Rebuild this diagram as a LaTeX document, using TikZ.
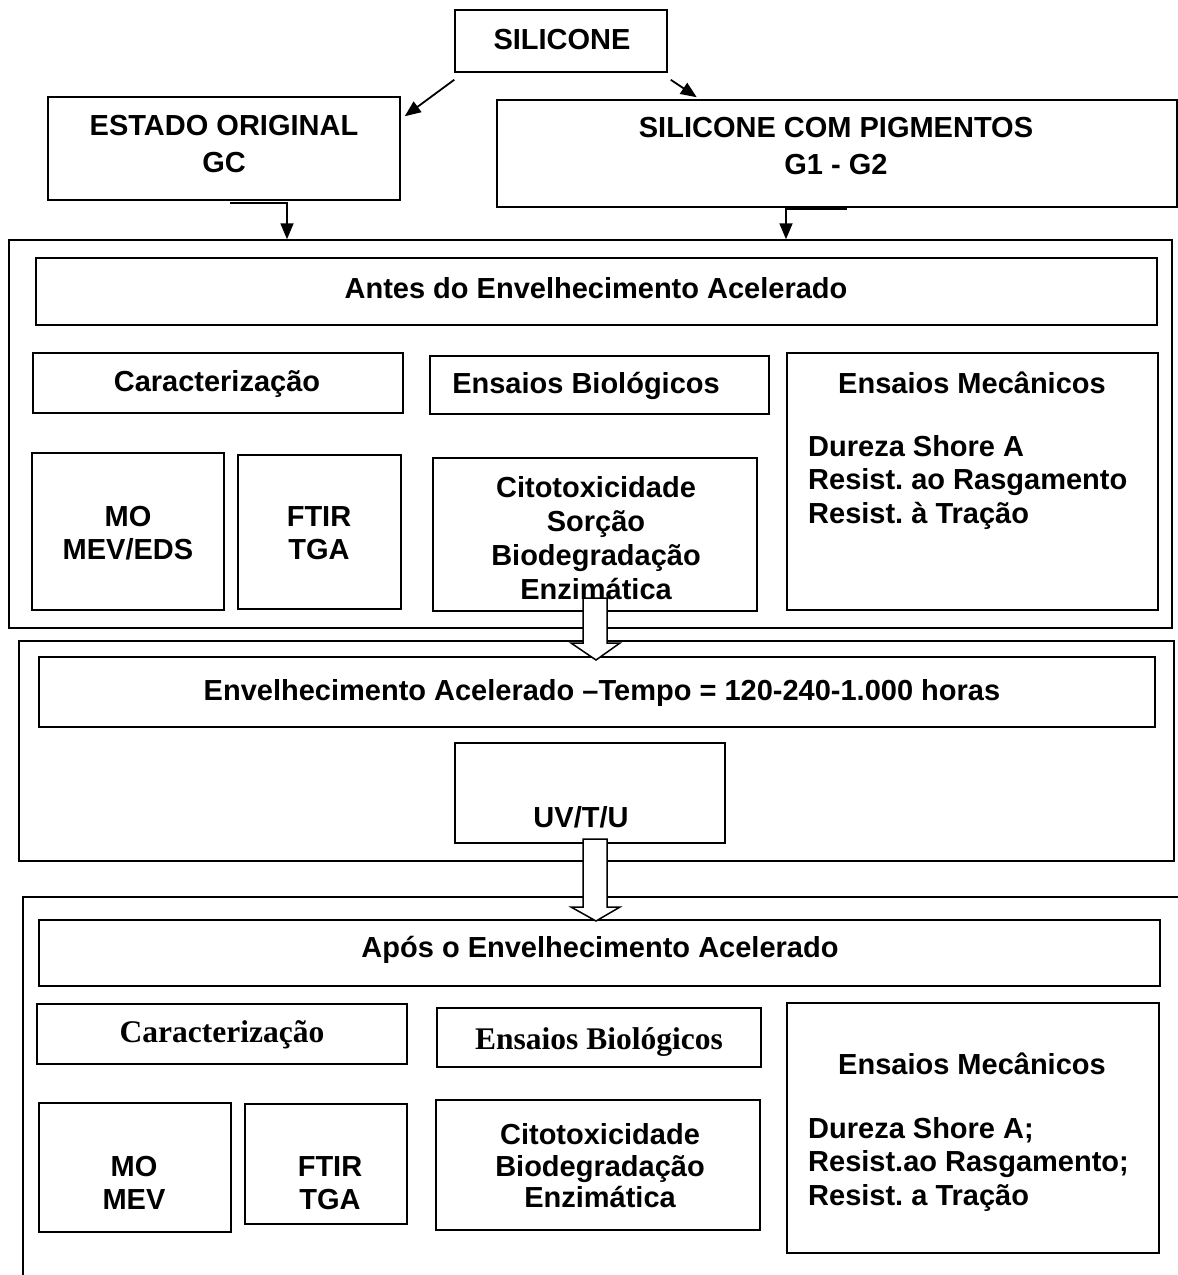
\documentclass[tikz,border=0pt]{standalone}
\usepackage{fontspec}
\setmainfont{Liberation Sans}
\newfontfamily\serifface{Liberation Serif}
\usetikzlibrary{arrows.meta,calc,fit}
\frenchspacing
\begin{document}
\begin{tikzpicture}[x=1pt,y=-1pt,
  box/.style={draw, line width=1.5pt, inner sep=0pt},
  txt/.style={font=\bfseries\fontsize{29}{34}\selectfont, align=center, inner sep=0pt},
  stxt/.style={font=\serifface\bfseries\fontsize{31.5}{36}\selectfont, align=center, inner sep=0pt},
  arr/.style={line width=1.8pt, -{Triangle[length=16pt,width=13pt]}},
  blockarrow/.style={draw, line width=1.5pt, fill=white}]
\useasboundingbox (0,0) rectangle (1178,1275);

% top
\node[box, fit={(455,10) (667,72)}] (sil) {};
\node[txt] (tsil) at (562,40) {SILICONE};
\node[box, fit={(48,97) (400,200)}] (est) {};
\node[txt, font=\bfseries\fontsize{29}{37}\selectfont] (test) at (224,144) {ESTADO ORIGINAL\\GC};
\node[box, fit={(497,100) (1177,207)}] (pig) {};
\node[txt, font=\bfseries\fontsize{29}{37}\selectfont] (tpig) at (836,146) {SILICONE COM PIGMENTOS\\G1 - G2};

\draw[arr] ($(sil.south west)+(0,7)$) -- ($(est.north east)+(4,20)$);
\draw[arr] ($(sil.south east)+(3,7)$) -- ($(sil.south east |- pig.north)+(29,-2)$);

% block 1: antes
\node[box, fit={(9,240) (1172,628)}] (ant) {};
\coordinate (e1) at ($(est.south)+(63,2)$);
\draw[arr] ($(est.south)+(6,2)$) -- (e1) -- (e1 |- ant.north);
\coordinate (p1) at ($(pig.south)+(-51,1)$);
\draw[arr] ($(pig.south)+(10,1)$) -- (p1) -- (p1 |- ant.north);

\node[box, fit={(36,258) (1157,325)}] (h1) {};
\node[txt] (th1) at (596,288) {Antes do Envelhecimento Acelerado};
\node[box, fit={(33,353) (403,413)}] (car1) {};
\node[txt] (tcar1) at (217,384) {Caracterização};
\node[box, fit={(32,453) (224,610)}] (mo1) {};
\node[txt, font=\bfseries\fontsize{29}{33}\selectfont] (tmo1) at (128,533) {MO\\MEV/EDS};
\node[box, fit={(238,455) (401,609)}] (ft1) {};
\node[txt, font=\bfseries\fontsize{29}{33}\selectfont] (tft1) at (319,533) {FTIR\\TGA};
\node[box, fit={(430,356) (769,414)}] (bio1) {};
\node[txt] (tbio1) at (586,386) {Ensaios Biológicos};
\node[box, fit={(433,458) (757,611)}] (cit1) {};
\node[txt] (tcit1) at (596,538) {Citotoxicidade\\Sorção\\Biodegradação\\Enzimática};
\node[box, fit={(787,353) (1158,610)}] (mec1) {};
\node[txt] (tmec1) at (972,383) {Ensaios Mecânicos};
\node[txt, align=left, anchor=west, font=\bfseries\fontsize{29}{33.5}\selectfont] (lmec1) at (808,482) {Dureza Shore A\\Resist. ao Rasgamento\\Resist. à Tração};

% block 2: envelhecimento
\node[box, fit={(19,641) (1174,861)}] (env) {};
\node[box, fit={(39,657) (1155,727)}] (h2) {};
\node[txt] (th2) at (602,693) {Envelhecimento Acelerado –Tempo = 120-240-1.000 horas};
\node[box, fit={(455,743) (725,843)}] (uv) {};
\node[txt] (tuv) at (581,817) {UV/T/U};

% block 3: apos (open frame)
\draw[line width=1.5pt] (1178,897) coordinate (o3a) -- (23,897) coordinate (o3b) -- (23,1275) coordinate (o3c);
\node[box, fit={(39,920) (1160,986)}] (h3) {};
\node[txt] (th3) at (600,950) {Após o Envelhecimento Acelerado};
\node[box, fit={(37,1004) (407,1064)}] (car2) {};
\node[stxt] (tcar2) at (222,1035) {Caracterização};
\node[box, fit={(39,1103) (231,1232)}] (mo2) {};
\node[txt, font=\bfseries\fontsize{29}{33}\selectfont] (tmo2) at (134,1183) {MO\\MEV};
\node[box, fit={(245,1104) (407,1224)}] (ft2) {};
\node[txt, font=\bfseries\fontsize{29}{33}\selectfont] (tft2) at (330,1183) {FTIR\\TGA};
\node[box, fit={(437,1008) (761,1067)}] (bio2) {};
\node[stxt] (tbio2) at (599,1042) {Ensaios Biológicos};
\node[box, fit={(436,1100) (760,1230)}] (cit2) {};
\node[txt, font=\bfseries\fontsize{29}{31.5}\selectfont] (tcit2) at (600,1166) {Citotoxicidade\\Biodegradação\\Enzimática};
\node[box, fit={(787,1003) (1159,1253)}] (mec2) {};
\node[txt] (tmec2) at (972,1064) {Ensaios Mecânicos};
\node[txt, align=left, anchor=west, font=\bfseries\fontsize{29}{33.5}\selectfont] (lmec2) at (808,1164) {Dureza Shore A;\\Resist.ao Rasgamento;\\Resist. a Tração};

% block arrows
\coordinate (ba1) at (596,660);
\draw[blockarrow] (583,598) -- (583,643) -- (571,643) -- (ba1) -- (620,643) -- (607,643) -- (607,598) -- cycle;
\coordinate (ba2) at (596,921);
\draw[blockarrow] (583,839) -- (583,907) -- (571,907) -- (ba2) -- (620,907) -- (607,907) -- (607,839) -- cycle;
\end{tikzpicture}
\end{document}
